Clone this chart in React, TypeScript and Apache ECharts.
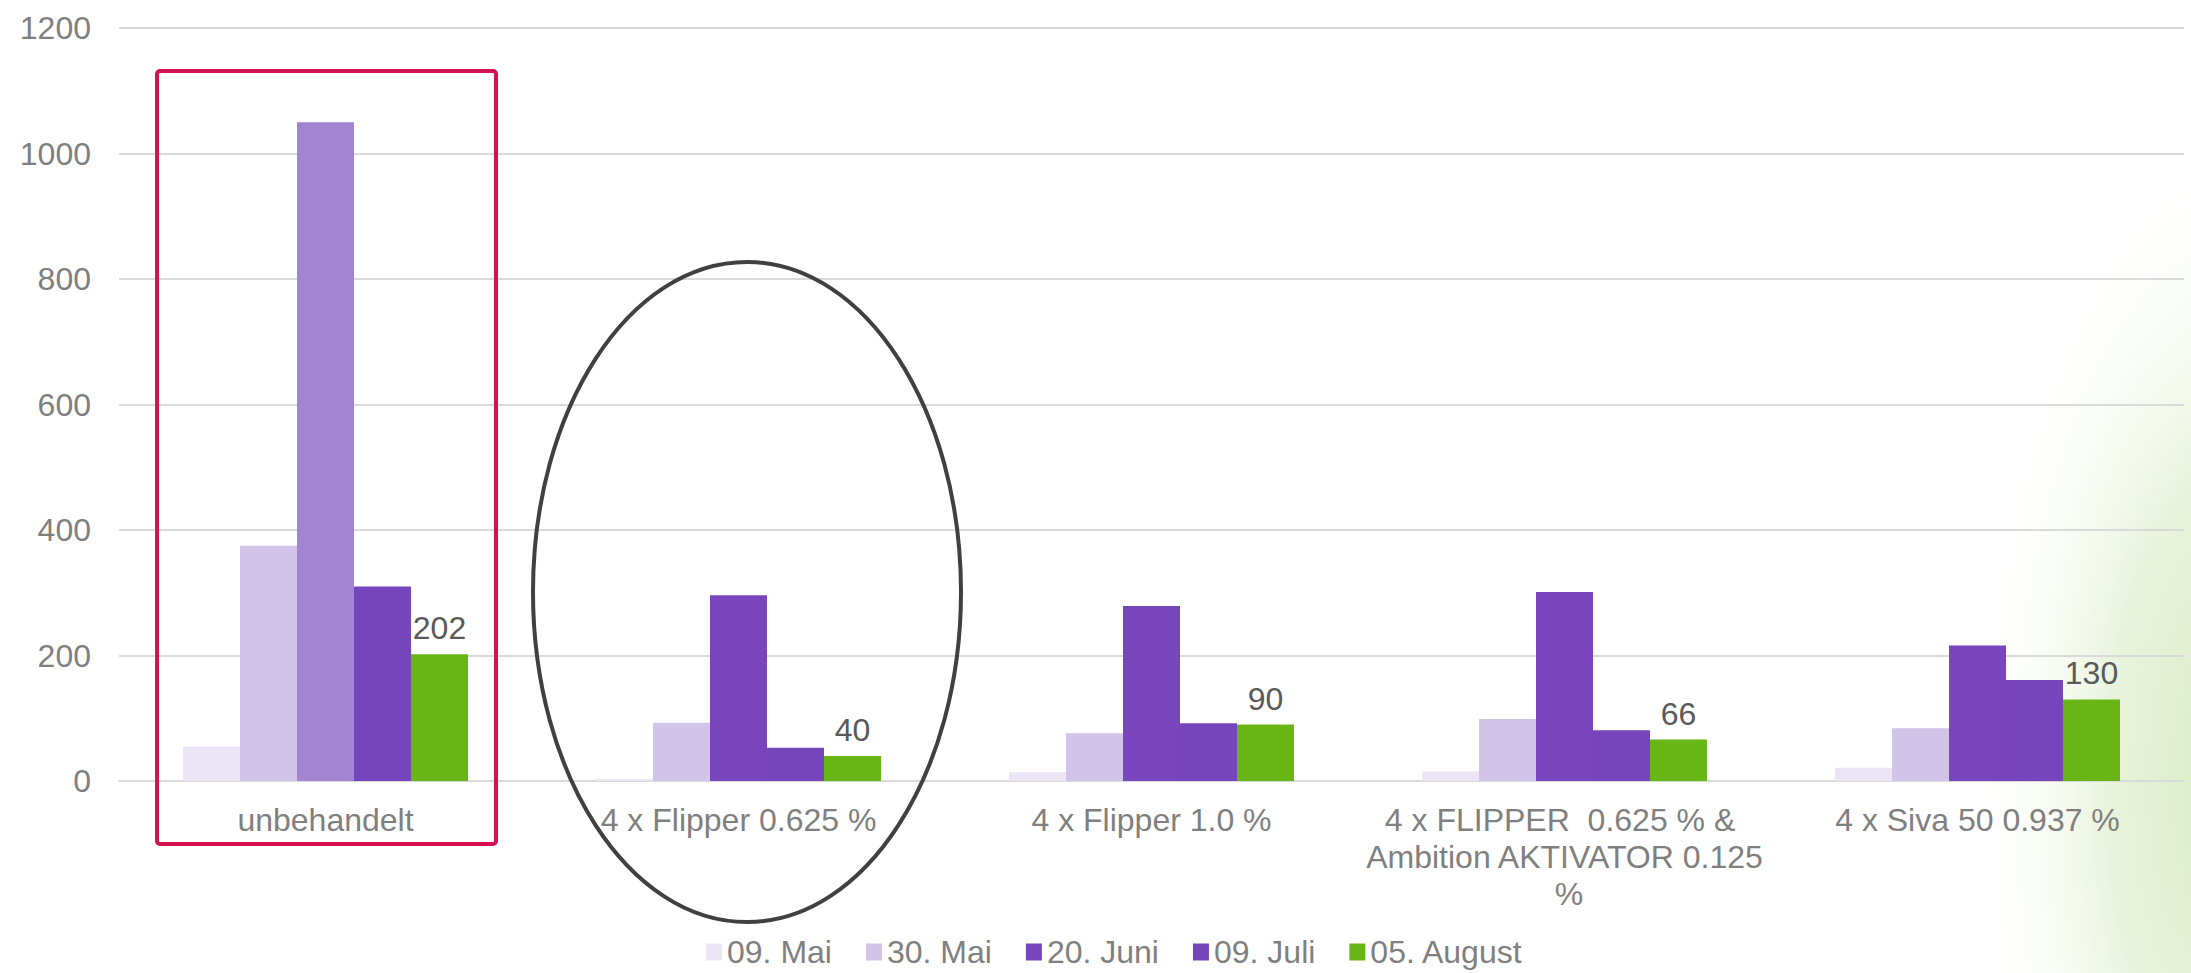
import React, { useEffect, useRef } from "react";
import * as echarts from "echarts";

const categories = [
  "unbehandelt",
  "4 x Flipper 0.625 %",
  "4 x Flipper 1.0 %",
  "4 x FLIPPER  0.625 % & Ambition AKTIVATOR 0.125 %",
  "4 x Siva 50 0.937 %",
];
const seriesNames = ["09. Mai", "30. Mai", "20. Juni", "09. Juli", "05. August"];
const mai09 = [55, 3, 14, 15, 21];
const mai30 = [375, 93, 76, 99, 84];
const juni20 = [1050, 296, 279, 301, 216];
const juli09 = [310, 53, 92, 81, 161];
const aug05 = [202, 40, 90, 66, 130];
const yTicks = { min: 0, max: 1200, interval: 200 };

const colors = ["#EBE4F5", "#D2C3E8", "#7845BD", "#7745BB", "#68B516"];
const highlightColor = "#A384D2";

export default function App() {
  const ref = useRef<HTMLDivElement>(null);
  useEffect(() => {
    if (!ref.current) return;
    const chart = echarts.init(ref.current, undefined, { renderer: "svg" });
    const font = "'Liberation Sans', Arial, sans-serif";
    const fs = 32;
    const values = [mai09, mai30, juni20, juli09, aug05];
    const series = seriesNames.map((name, i) => ({
      name,
      type: "bar",
      barGap: "0%",
      barCategoryGap: "31%",
      itemStyle: { color: colors[i] },
      data: values[i].map((v, j) =>
        i === 2 && j === 0 ? { value: v, itemStyle: { color: highlightColor } } : v
      ),
      label:
        i === 4
          ? {
              show: true,
              position: "top",
              distance: 10,
              fontSize: fs,
              fontFamily: font,
              color: "#595959",
            }
          : { show: false },
    }));
    chart.setOption({
      animation: false,
      backgroundColor: "#ffffff",
      color: colors,
      grid: { left: 119, right: 7, top: 28, bottom: 192, containLabel: false },
      legend: {
        data: seriesNames,
        left: 701,
        top: 931,
        icon: "rect",
        itemWidth: 16,
        itemHeight: 17,
        itemGap: 34,
        textStyle: { fontSize: fs, fontFamily: font, color: "#7F7F7F" },
      },
      xAxis: {
        type: "category",
        data: categories,
        axisLine: { lineStyle: { color: "#D9D9D9", width: 2 } },
        axisTick: { show: false },
        axisLabel: {
          interval: 0,
          margin: 20,
          fontSize: fs,
          lineHeight: 37,
          fontFamily: font,
          color: "#7F7F7F",
          width: 412,
          overflow: "break",
        },
      },
      yAxis: {
        type: "value",
        min: yTicks.min,
        max: yTicks.max,
        interval: yTicks.interval,
        axisLine: { show: false },
        axisTick: { show: false },
        axisLabel: {
          margin: 28,
          fontSize: fs,
          fontFamily: font,
          color: "#7F7F7F",
          formatter: (v: number) => String(v),
        },
        splitLine: { lineStyle: { color: "#D9D9D9", width: 2 } },
      },
      graphic: [
        {
          type: "circle",
          z: -10,
          x: 2240,
          y: 780,
          scaleX: 0.5,
          scaleY: 1.2,
          silent: true,
          shape: { cx: 0, cy: 0, r: 540 },
          style: {
            fill: new echarts.graphic.RadialGradient(0.5, 0.5, 0.5, [
              { offset: 0, color: "rgba(214,234,190,1)" },
              { offset: 0.5, color: "rgba(228,241,212,0.8)" },
              { offset: 1, color: "rgba(255,255,255,0)" },
            ]),
          },
        },
        {
          type: "rect",
          z: 100,
          silent: true,
          shape: { x: 157, y: 71, width: 339, height: 773, r: 3 },
          style: { fill: "none", stroke: "#D4124F", lineWidth: 4 },
        },
        {
          type: "ellipse",
          z: 100,
          silent: true,
          shape: { cx: 747, cy: 592, rx: 214, ry: 330 },
          style: { fill: "none", stroke: "#404040", lineWidth: 4 },
        },
      ],
      series,
    });
    return () => chart.dispose();
  }, []);
  return (
    <div
      ref={ref}
      style={{ position: "fixed", left: 0, top: 0, width: 2191, height: 973 }}
    />
  );
}
